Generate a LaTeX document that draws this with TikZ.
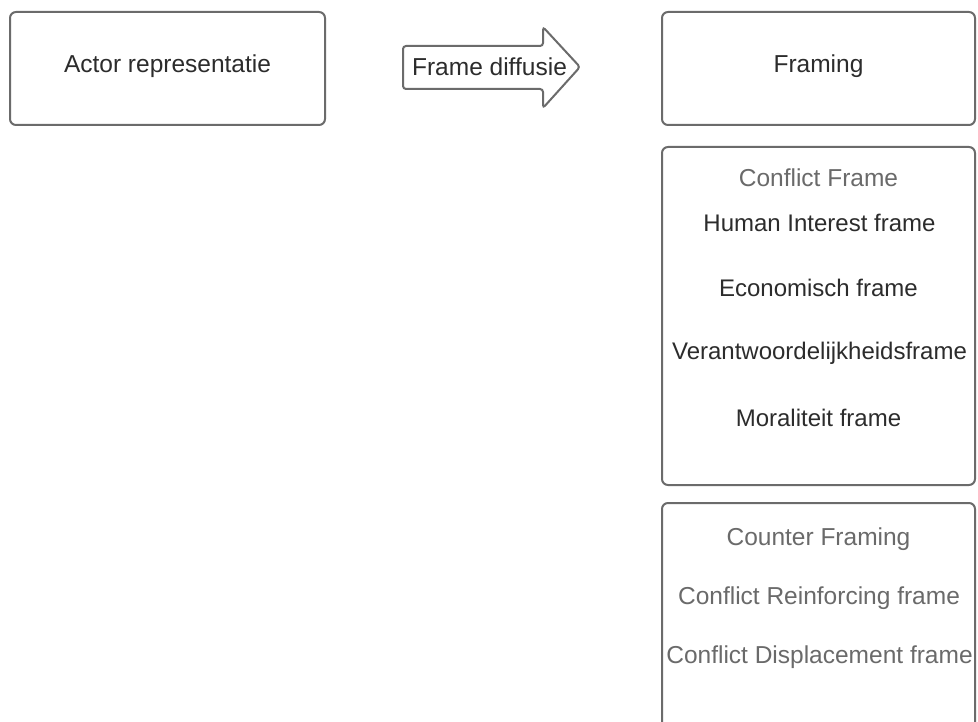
\documentclass[tikz,border=0pt]{standalone}
\usepackage{fontspec}
\setmainfont{Liberation Sans}
\definecolor{boxline}{HTML}{6B6B6B}
\definecolor{darktext}{HTML}{2C2C2C}
\definecolor{greytext}{HTML}{6A6A6A}

\begin{document}
\begin{tikzpicture}[x=1pt,y=-1pt,
  box_node/.style={draw=boxline,line width=2pt,rounded corners=6pt,fill=white,inner sep=0pt},
  dark_text/.style={text=darktext,font=\fontsize{24.5}{29}\selectfont,inner sep=0pt},
  list_text/.style={text=darktext,font=\fontsize{24}{29}\selectfont,inner sep=0pt},
  grey_text/.style={text=greytext,font=\fontsize{24.5}{29}\selectfont,inner sep=0pt}]

  \useasboundingbox (0,0) rectangle (978,722);

  \node[box_node,minimum width=315pt,minimum height=113pt] (actor) at (167.5,68.5) {};
  \node[dark_text] (actor_label) at (167.5,66) {Actor representatie};

  \draw[draw=boxline,line width=2pt,rounded corners=3pt,fill=white]
    (403,46) -- (543,46) -- (543,27) -- (580,67) -- (543,108) -- (543,89) -- (403,89) -- cycle;
  \node[dark_text] (diffusie) at (489.5,67) {Frame diffusie};

  \node[box_node,minimum width=313pt,minimum height=113pt] (framing) at (818.5,68.5) {};
  \node[dark_text] (framing_label) at (818.5,66) {Framing};

  \node[box_node,minimum width=313pt,minimum height=338pt] (conflict) at (818.5,316) {};
  \node[grey_text] (conflict_label) at (818.5,178) {Conflict Frame};
  \node[list_text] (human) at (819.5,223) {Human Interest frame};
  \node[list_text] (economisch) at (818.5,288) {Economisch frame};
  \node[list_text] (verantw) at (819.5,353) {Verantwoordelijkheidsframe};
  \node[list_text] (moraliteit) at (818.5,418) {Moraliteit frame};

  \node[box_node,minimum width=313pt,minimum height=338pt] (counter) at (818.5,672) {};
  \node[grey_text] (counter_label) at (818.5,539) {Counter Framing};
  \node[grey_text] (reinforcing) at (819,598) {Conflict Reinforcing frame};
  \node[grey_text] (displacement) at (819.5,657) {Conflict Displacement frame};

\end{tikzpicture}
\end{document}
